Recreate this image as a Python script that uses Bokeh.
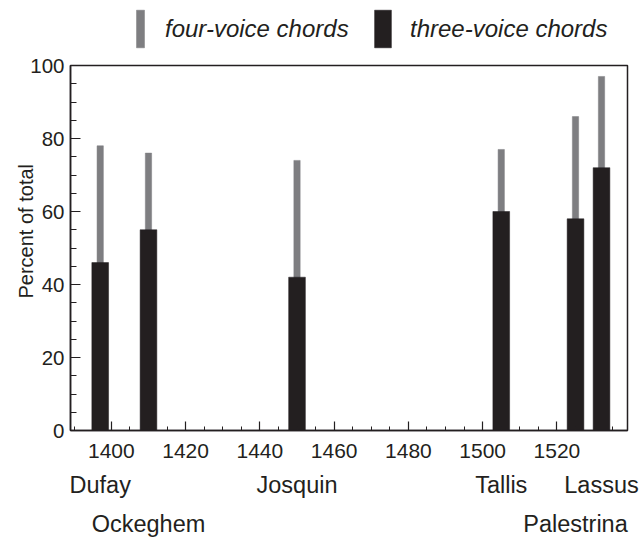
from bokeh.plotting import figure
from bokeh.layouts import column
from bokeh.models import (Range1d, LinearAxis, FixedTicker, Legend, LegendItem,
                          Title, ColumnDataSource)
from bokeh.embed import file_html
from bokeh.resources import INLINE

# ---- data ----
composers = ["Dufay", "Ockeghem", "Josquin", "Tallis", "Palestrina", "Lassus"]
years = [1397, 1410, 1450, 1505, 1525, 1532]
four_voice = [78, 76, 74, 77, 86, 97]
three_voice = [46, 55, 42, 60, 58, 72]
x_ticks = [1400, 1420, 1440, 1460, 1480, 1500, 1520]
x_minor = list(range(1390, 1540, 5))
y_ticks = [0, 20, 40, 60, 80, 100]
y_minor = list(range(0, 101, 5))
row1 = [0, 2, 3, 5]   # Dufay, Josquin, Tallis, Lassus
row2 = [1, 4]         # Ockeghem, Palestrina

FONT = "Liberation Sans"
GRAY = "#7e7e81"
BLACK = "#231f20"

src = ColumnDataSource(dict(year=years, four=four_voice, three=three_voice, name=composers))

# ---------------- legend strip ----------------
# the strip's ranges are chosen so that its bars lie entirely outside its frame;
# they only serve as legend swatches
leg = figure(width=639, height=50, output_backend="svg", toolbar_location=None,
             x_axis_type=None, y_axis_type=None, min_border=0,
             x_range=Range1d(-1001, -1000), y_range=Range1d(1000, 1001))
leg.outline_line_color = None
leg.grid.visible = False
g4 = leg.vbar(x="year", top="four", width=1.7, source=src,
              fill_color=GRAY, line_color=GRAY, line_width=0.5)
g3 = leg.vbar(x="year", top="three", width=4.5, source=src,
              fill_color=BLACK, line_color=BLACK, line_width=0.5)


def make_legend(label, rend, loc, gw, standoff):
    return Legend(items=[LegendItem(label=label, renderers=[rend])], location=loc,
                  orientation="horizontal", glyph_width=gw, glyph_height=47,
                  label_height=47, label_standoff=standoff, padding=0, margin=0,
                  border_line_color=None, background_fill_alpha=0,
                  label_text_font=FONT, label_text_font_style="italic",
                  label_text_font_size="24px", label_text_color=BLACK)


leg.add_layout(make_legend("four-voice chords", g4, (65, -2), 10, 20), "center")
leg.add_layout(make_legend("three-voice chords", g3, (302, -2), 21, 17), "center")

# ---------------- main chart ----------------
p = figure(width=639, height=489, output_backend="svg", toolbar_location=None,
           x_range=Range1d(1389, 1539), y_range=Range1d(0, 100),
           min_border_left=70, min_border_right=12, min_border_top=15,
           min_border_bottom=107)
p.grid.visible = False
p.outline_line_color = BLACK
p.outline_line_width = 1.5
p.outline_line_alpha = 1.0

p.vbar(x="year", top="four", bottom=0, width=1.7, source=src,
       fill_color=GRAY, line_color=GRAY, line_width=0.5)
p.vbar(x="year", top="three", bottom=0, width=4.5, source=src,
       fill_color=BLACK, line_color=BLACK, line_width=0.5)

# x axis
xa = p.xaxis[0]
xa.ticker = FixedTicker(ticks=x_ticks, minor_ticks=x_minor)
xa.major_tick_in = 9
xa.major_tick_out = 0
xa.minor_tick_in = 4
xa.minor_tick_out = 0
xa.major_label_standoff = 13
xa.major_label_text_font = FONT
xa.major_label_text_font_size = "21px"
xa.major_label_text_color = BLACK
xa.axis_line_color = BLACK
xa.axis_line_width = 1.5
xa.major_tick_line_color = BLACK
xa.minor_tick_line_color = BLACK
xa.major_tick_line_width = 1.2
xa.minor_tick_line_width = 1

# y axis
ya = p.yaxis[0]
ya.ticker = FixedTicker(ticks=y_ticks, minor_ticks=y_minor)
ya.major_tick_in = 10
ya.major_tick_out = 0
ya.minor_tick_in = 6
ya.minor_tick_out = 0
ya.major_label_standoff = 6
ya.major_label_text_font = FONT
ya.major_label_text_font_size = "20.5px"
ya.major_label_text_color = BLACK
ya.axis_line_color = BLACK
ya.axis_line_width = 1.5
ya.major_tick_line_color = BLACK
ya.minor_tick_line_color = BLACK
ya.major_tick_line_width = 1.2
ya.minor_tick_line_width = 1


def name_axis(idx, standoff):
    ax = LinearAxis(ticker=FixedTicker(ticks=[years[i] for i in idx]),
                    major_label_overrides={years[i]: composers[i] for i in idx})
    ax.axis_line_color = None
    ax.major_tick_line_color = None
    ax.minor_tick_line_color = None
    ax.major_tick_out = 0
    ax.major_tick_in = 0
    ax.major_label_standoff = standoff
    ax.major_label_text_font = FONT
    ax.major_label_text_font_size = "23.5px"
    ax.major_label_text_color = BLACK
    return ax


p.add_layout(name_axis(row1, 11), "below")
p.add_layout(name_axis(row2, 10), "below")

# y axis title (left panel, shifted up from the frame bottom)
p.add_layout(Title(text="Percent of total", align="left", offset=132,
                   vertical_align="bottom", standoff=-18,
                   text_font=FONT, text_font_size="20px", text_font_style="normal",
                   text_color=BLACK), "left")

layout = column(leg, p, spacing=0)
open("out.html", "w").write(file_html(layout, INLINE))
